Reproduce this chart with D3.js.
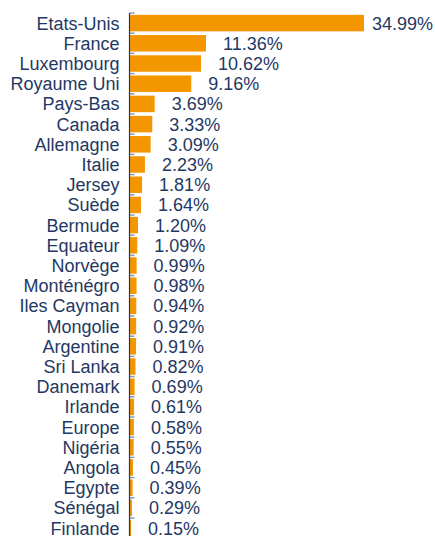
<!DOCTYPE html>
<html>
<head>
<meta charset="utf-8">
<script src="https://cdn.jsdelivr.net/npm/d3@7"></script>
<style>
  body { margin: 0; background: #fff; }
  svg { display: block; font-family: "Liberation Sans", Arial, sans-serif; }
</style>
</head>
<body>
<div id="chart"></div>
<script>
var countries = ["Etats-Unis", "France", "Luxembourg", "Royaume Uni", "Pays-Bas", "Canada", "Allemagne",
    "Italie", "Jersey", "Suède", "Bermude", "Equateur", "Norvège", "Monténégro", "Iles Cayman",
    "Mongolie", "Argentine", "Sri Lanka", "Danemark", "Irlande", "Europe", "Nigéria", "Angola",
    "Egypte", "Sénégal", "Finlande"];
var shares = [34.99, 11.36, 10.62, 9.16, 3.69, 3.33, 3.09, 2.23, 1.81, 1.64, 1.20, 1.09, 0.99,
    0.98, 0.94, 0.92, 0.91, 0.82, 0.69, 0.61, 0.58, 0.55, 0.45, 0.39, 0.29, 0.15];

var width = 435, height = 536;
var axisX = 129.5;
var textColor = "#1f3864";
var barColor = "#f49600";

var data = countries.map(function (c, i) {
    return { country: c, value: shares[i] };
});

var svg = d3.select("#chart").append("svg")
    .attr("width", width)
    .attr("height", height);

var x = d3.scaleLinear()
    .domain([0, 34.99])
    .range([axisX + 0.5, 364]);

var y = d3.scaleBand()
    .domain(countries)
    .range([13, 13 + countries.length * 20.2]);

var barHeight = 16.5;

// ticks between categories, on the right of the axis
var boundaries = countries.map(function (c) { return y(c); });
boundaries.push(y.range()[1]);
svg.append("g")
    .selectAll("line")
    .data(boundaries)
    .enter().append("line")
    .attr("x1", axisX)
    .attr("x2", axisX + 5)
    .attr("y1", function (d) { return d; })
    .attr("y2", function (d) { return d; })
    .attr("stroke", "#8a9ab5")
    .attr("stroke-width", 1.5);

svg.append("g")
    .selectAll("rect")
    .data(data)
    .enter().append("rect")
    .attr("x", x(0))
    .attr("y", function (d) { return y(d.country) + (y.bandwidth() - barHeight) / 2; })
    .attr("width", function (d) { return x(d.value) - x(0); })
    .attr("height", barHeight)
    .attr("fill", barColor);

svg.append("line")
    .attr("x1", axisX).attr("x2", axisX)
    .attr("y1", y.range()[0]).attr("y2", height)
    .attr("stroke", textColor)
    .attr("stroke-width", 1.2);

svg.append("g")
    .selectAll("text")
    .data(data)
    .enter().append("text")
    .attr("x", axisX - 10)
    .attr("y", function (d) { return y(d.country) + y.bandwidth() / 2; })
    .attr("dy", "0.36em")
    .attr("text-anchor", "end")
    .attr("font-size", 18)
    .attr("fill", textColor)
    .text(function (d) { return d.country; });

var labels = svg.append("g")
    .selectAll("text")
    .data(data)
    .enter().append("text")
    .attr("y", function (d) { return y(d.country) + y.bandwidth() / 2; })
    .attr("dy", "0.36em")
    .attr("font-size", 18)
    .attr("fill", textColor)
    .text(function (d) { return d.value.toFixed(2) + "%"; });

labels.attr("x", function (d) {
    var w = this.getComputedTextLength();
    return Math.min(x(d.value) + 17, width - 2 - w);
});
</script>
</body>
</html>
